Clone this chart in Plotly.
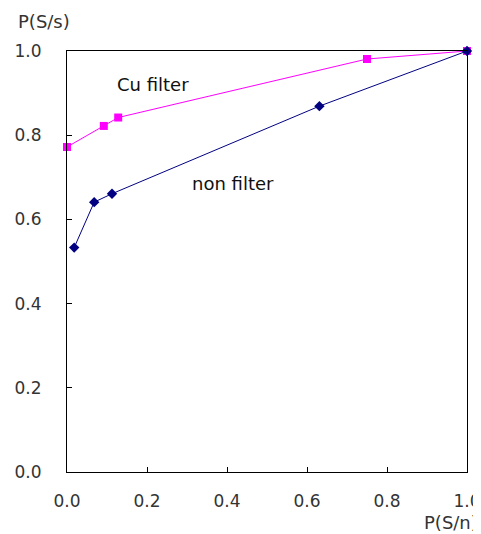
import plotly.graph_objects as go

cu_x = [0.0, 0.092, 0.128, 0.75, 1.0]
cu_y = [0.772, 0.822, 0.842, 0.981, 1.0]
non_x = [0.018, 0.068, 0.1125, 0.631, 1.0]
non_y = [0.533, 0.641, 0.661, 0.869, 1.0]
tick_vals = [0.0, 0.2, 0.4, 0.6, 0.8, 1.0]
tick_text = ["0.0", "0.2", "0.4", "0.6", "0.8", "1.0"]

font_family = "DejaVu Sans, sans-serif"

fig = go.Figure()
fig.add_trace(go.Scatter(x=cu_x, y=cu_y, mode="lines+markers", name="Cu filter",
                         line=dict(color="#ff00ff", width=1),
                         marker=dict(symbol="square", size=8, color="#ff00ff"),
                         cliponaxis=False))
fig.add_trace(go.Scatter(x=non_x, y=non_y, mode="lines+markers", name="non filter",
                         line=dict(color="#000080", width=1),
                         marker=dict(symbol="diamond", size=8, color="#000080"),
                         cliponaxis=False))

axis_common = dict(range=[0, 1], tickvals=tick_vals, ticktext=tick_text,
                   showgrid=False, zeroline=False, showline=True, mirror=True,
                   linecolor="#000000", linewidth=1, ticks="inside", ticklen=5,
                   tickcolor="#000000", automargin=False,
                   tickfont=dict(family=font_family, size=17, color="#333333"))

fig.update_xaxes(**axis_common, ticklabelstandoff=14)
fig.update_yaxes(**axis_common, ticklabelstandoff=21)

fig.add_annotation(x=0.215, y=0.9216, xref="x", yref="y", text="Cu filter", showarrow=False,
                   font=dict(family=font_family, size=18, color="#111111"))
fig.add_annotation(x=0.415, y=0.686, xref="x", yref="y", text="non filter", showarrow=False,
                   font=dict(family=font_family, size=18, color="#111111"))
fig.add_annotation(x=-0.1275, y=1.071, xref="paper", yref="paper", text="P(S/s)",
                   showarrow=False, xanchor="left", yanchor="middle",
                   font=dict(family=font_family, size=18, color="#333333"))
fig.add_annotation(x=1.0325, y=-0.121, xref="paper", yref="paper", text="P(S/n)",
                   showarrow=False, xanchor="right", yanchor="middle",
                   font=dict(family=font_family, size=18, color="#333333"))

fig.update_layout(width=481, height=534, showlegend=False,
                  margin=dict(l=59, r=22, t=43, b=70),
                  plot_bgcolor="white", paper_bgcolor="white")

fig.write_html("out.html")
